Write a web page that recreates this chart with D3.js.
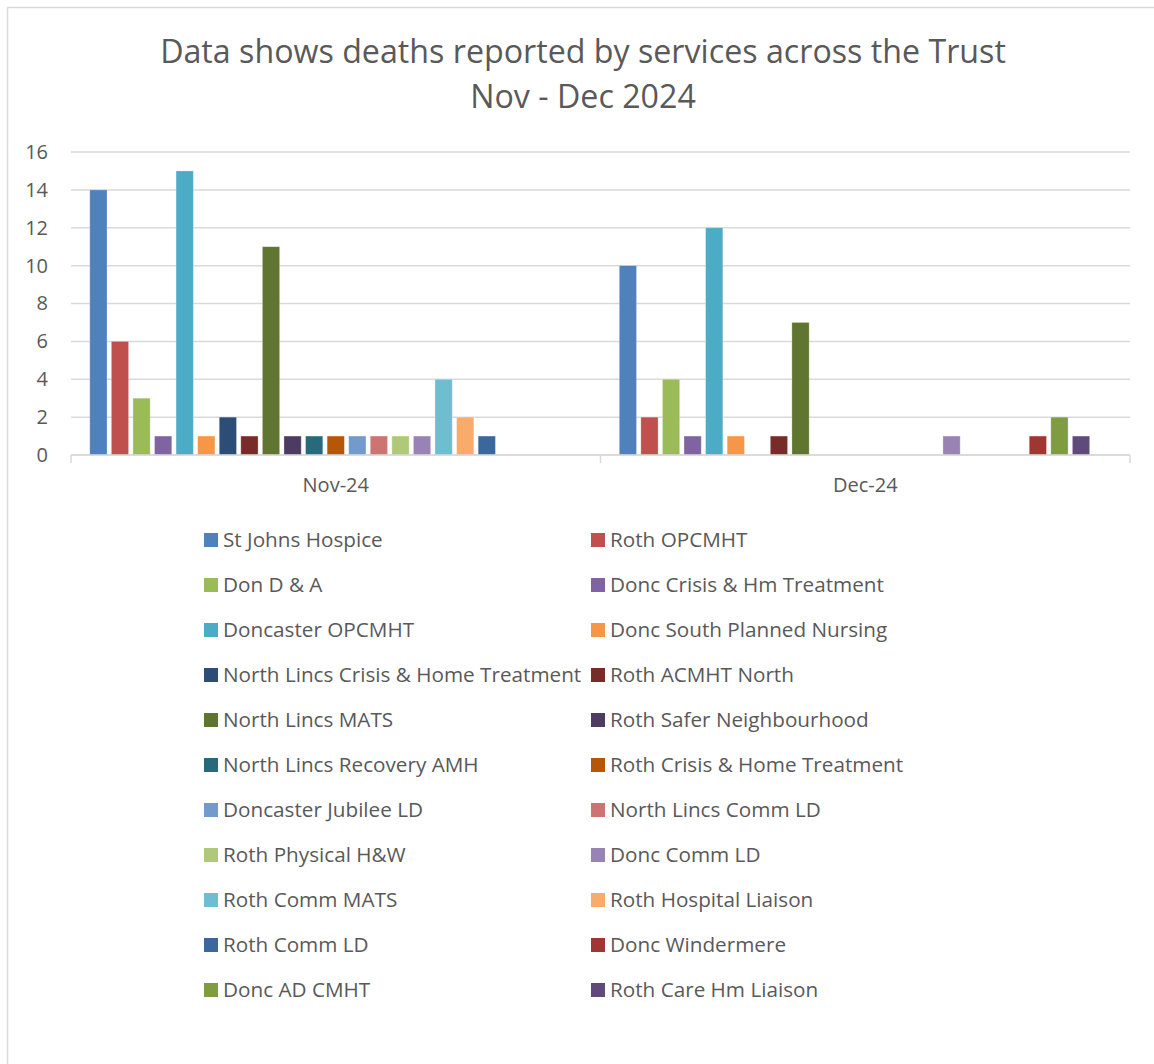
<!DOCTYPE html>
<html>
<head>
<meta charset="utf-8">
<script src="https://cdn.jsdelivr.net/npm/d3@7/dist/d3.min.js"></script>
<style>
  html, body { margin: 0; padding: 0; background: #fff; }
  svg { display: block; font-family: "Open Sans", Lato, sans-serif; }
</style>
</head>
<body>
<svg id="chart" width="1154" height="1064"></svg>
<script>
// Reporting months (clusters on the x axis)
const months = ["Nov-24", "Dec-24"];

// Services reporting deaths, in legend order
const services = [
  "St Johns Hospice", "Roth OPCMHT",
  "Don D & A", "Donc Crisis & Hm Treatment",
  "Doncaster OPCMHT", "Donc South Planned Nursing",
  "North Lincs Crisis & Home Treatment", "Roth ACMHT North",
  "North Lincs MATS", "Roth Safer Neighbourhood",
  "North Lincs Recovery AMH", "Roth Crisis & Home Treatment",
  "Doncaster Jubilee LD", "North Lincs Comm LD",
  "Roth Physical H&W", "Donc Comm LD",
  "Roth Comm MATS", "Roth Hospital Liaison",
  "Roth Comm LD", "Donc Windermere",
  "Donc AD CMHT", "Roth Care Hm Liaison"
];

// Deaths reported per service, one value per service
const nov24 = [14, 6, 3, 1, 15, 1, 2, 1, 11, 1, 1, 1, 1, 1, 1, 1, 4, 2, 1, 0, 0, 0];
const dec24 = [10, 2, 4, 1, 12, 1, 0, 1, 7, 0, 0, 0, 0, 0, 0, 1, 0, 0, 0, 1, 2, 1];

// Y axis ticks
const yTicks = [0, 2, 4, 6, 8, 10, 12, 14, 16];

// Series colours
const colors = [
  "#4F81BD", "#C0504D", "#9BBB59", "#8064A2", "#4BACC6", "#F79646",
  "#2C4D75", "#772C2A", "#5F7530", "#4D3B62", "#276A7C", "#B65708",
  "#729ACA", "#CD7371", "#AFC97A", "#9983B5", "#6FBDD1", "#F9AB6B",
  "#3A679C", "#9F3632", "#7F9D40", "#604A7B"
];

const monthValues = [nov24, dec24];

const svg = d3.select("#chart");
const textColor = "#595959";
const gridColor = "#D9D9D9";
const fontFamily = "'Open Sans', Lato, sans-serif";

// Outer chart frame
svg.append("rect")
  .attr("x", 7.5).attr("y", 7.5)
  .attr("width", 1170).attr("height", 1080)
  .attr("fill", "#fff")
  .attr("stroke", gridColor)
  .attr("stroke-width", 1.5);

// Title
const title = svg.append("text")
  .attr("text-anchor", "middle")
  .attr("fill", textColor)
  .attr("font-size", 32.2);
title.append("tspan").attr("x", 583).attr("y", 63)
  .text("Data shows deaths reported by services across the Trust");
title.append("tspan").attr("x", 583).attr("y", 108)
  .text("Nov - Dec 2024");

// Plot area
const plot = { left: 71, right: 1130, top: 152, bottom: 455 };

const y = d3.scaleLinear().domain([0, 16]).range([plot.bottom, plot.top]);

const x0 = d3.scaleBand().domain(months).range([plot.left, plot.right]).padding(0);

// Each cluster holds one slot per service plus one trailing empty slot
const slots = d3.range(services.length + 1);
const x1 = d3.scaleBand().domain(slots).range([0, x0.bandwidth()])
  .paddingInner(0.2).paddingOuter(0.87);

// Gridlines
svg.append("g")
  .selectAll("line")
  .data(yTicks)
  .join("line")
  .attr("x1", plot.left).attr("x2", plot.right)
  .attr("y1", d => y(d)).attr("y2", d => y(d))
  .attr("stroke", gridColor)
  .attr("stroke-width", 1.5);

// Y axis labels
const yAxis = svg.append("g")
  .attr("transform", `translate(${plot.left},0)`)
  .call(d3.axisLeft(y).tickValues(yTicks).tickSize(0).tickPadding(23));
yAxis.select(".domain").remove();
yAxis.selectAll("text")
  .attr("fill", textColor)
  .attr("font-size", 20)
  .attr("font-family", fontFamily);

// Bars
const groups = svg.append("g")
  .selectAll("g")
  .data(months)
  .join("g")
  .attr("transform", d => `translate(${x0(d)},0)`);

groups.selectAll("rect")
  .data((m, mi) => monthValues[mi].map((v, si) => ({ v, si })))
  .join("rect")
  .attr("x", d => x1(d.si))
  .attr("width", x1.bandwidth())
  .attr("y", d => y(d.v))
  .attr("height", d => y(0) - y(d.v))
  .attr("fill", d => colors[d.si])
  .attr("stroke", "#fff")
  .attr("stroke-opacity", 0.35)
  .attr("stroke-width", 0.8);

// X axis with category separators
const xAxis = svg.append("g")
  .attr("transform", `translate(0,${plot.bottom})`)
  .call(d3.axisBottom(x0).tickSize(0).tickPadding(23));
xAxis.select(".domain")
  .attr("stroke", gridColor)
  .attr("stroke-width", 1.5)
  .attr("d", `M${plot.left},0H${plot.right}`);
xAxis.selectAll("text")
  .attr("fill", textColor)
  .attr("font-size", 20)
  .attr("font-family", fontFamily);

const separators = [plot.left, ...months.map(m => x0(m) + x0.bandwidth())];
svg.append("g")
  .selectAll("line")
  .data(separators)
  .join("line")
  .attr("x1", d => d).attr("x2", d => d)
  .attr("y1", plot.bottom).attr("y2", plot.bottom + 8)
  .attr("stroke", gridColor)
  .attr("stroke-width", 1.5);

// Legend, two columns
const legend = svg.append("g");
const legendItems = legend.selectAll("g")
  .data(services)
  .join("g")
  .attr("transform", (d, i) => `translate(${i % 2 === 0 ? 204 : 591},${540 + Math.floor(i / 2) * 45})`);

legendItems.append("rect")
  .attr("x", 0).attr("y", -7)
  .attr("width", 14).attr("height", 14)
  .attr("fill", (d, i) => colors[i]);

legendItems.append("text")
  .attr("x", 19)
  .attr("y", 0)
  .attr("dy", "0.36em")
  .attr("fill", textColor)
  .attr("font-size", 20.7)
  .text(d => d);
</script>
</body>
</html>
